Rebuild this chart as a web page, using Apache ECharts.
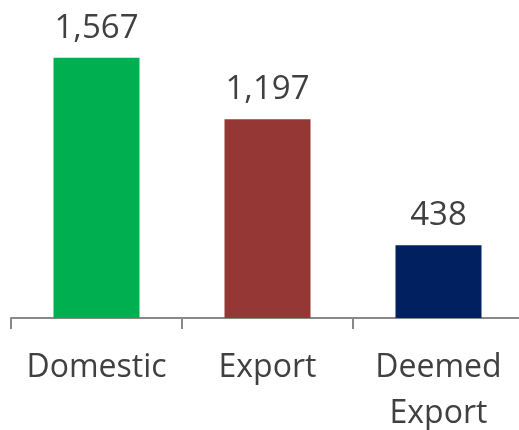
<!DOCTYPE html>
<html>
<head>
<meta charset="utf-8">
<script src="https://cdn.jsdelivr.net/npm/echarts@6/dist/echarts.min.js"></script>
<style>
  html, body { margin: 0; padding: 0; background: #ffffff; }
  #chart { width: 519px; height: 430px; }
</style>
</head>
<body>
<div id="chart"></div>
<script>
// Sales volume by channel
const categories = ['Domestic', 'Export', 'Deemed\nExport'];
const values = [1567, 1197, 438];
const barColors = ['#00B050', '#953735', '#002060'];

const chart = echarts.init(document.getElementById('chart'), null, { renderer: 'canvas' });

chart.setOption({
  animation: false,
  backgroundColor: '#ffffff',
  grid: { left: 11, top: 19, width: 513, bottom: 112, containLabel: false, outerBoundsMode: 'none' },
  xAxis: {
    type: 'category',
    data: categories,
    axisLine: { show: true, lineStyle: { color: '#898989', width: 2 } },
    axisTick: { show: true, length: 11, lineStyle: { color: '#898989', width: 2 } },
    axisLabel: {
      color: '#404040',
      fontFamily: 'Open Sans',
      fontSize: 32,
      lineHeight: 46,
      margin: 27,
      interval: 0
    }
  },
  yAxis: {
    type: 'value',
    min: 0,
    max: 1800,
    show: false,
    splitLine: { show: false }
  },
  series: [{
    type: 'bar',
    data: values.map((v, i) => ({ value: v, itemStyle: { color: barColors[i] } })),
    barWidth: 86,
    label: {
      show: true,
      position: 'top',
      distance: 13,
      color: '#404040',
      fontFamily: 'Open Sans',
      fontSize: 33,
      formatter: p => p.value.toLocaleString('en-US')
    }
  }]
});
</script>
</body>
</html>
